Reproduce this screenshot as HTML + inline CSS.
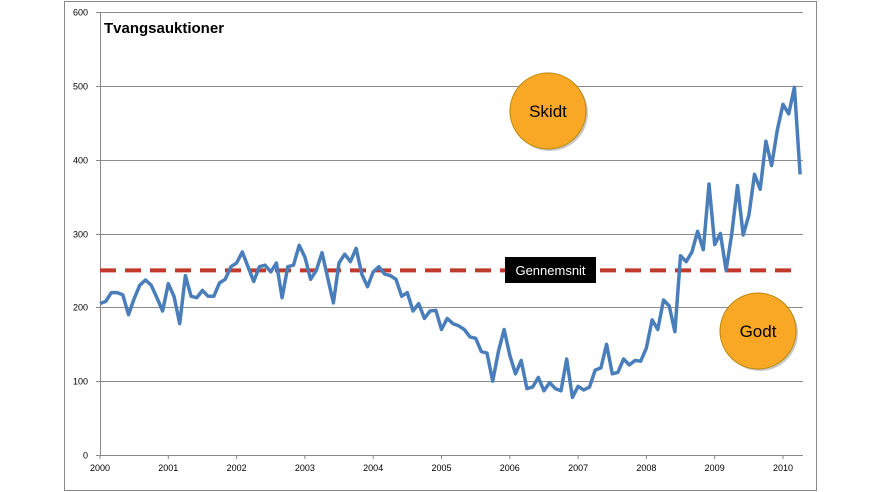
<!DOCTYPE html>
<html><head><meta charset="utf-8"><style>
body{margin:0;background:#fff;font-family:"Liberation Sans",sans-serif}
svg{display:block}
</style></head><body>
<svg width="884" height="492">
<rect x="64.5" y="1.5" width="752" height="489" fill="#fff" stroke="#888"/>
<g id="grid"></g>
<g id="axes"></g>
<text x="104" y="33" font-size="15" font-weight="bold" fill="#000">Tvangsauktioner</text>
<g id="avg"></g>
<path id="line" fill="none" stroke="#4a7ebb" stroke-width="3.5" stroke-linejoin="round"/>
<rect x="505" y="257" width="91" height="26" fill="#000"/>
<text x="550.5" y="275" font-size="13" fill="#fff" text-anchor="middle">Gennemsnit</text>
<circle cx="550" cy="113" r="38" fill="#222" opacity="0.25"/>
<circle cx="548" cy="111" r="38" fill="#f9a825" stroke="#b8860b"/>
<text x="548" y="117" font-size="17" text-anchor="middle" fill="#000">Skidt</text>
<circle cx="760" cy="333" r="38" fill="#222" opacity="0.25"/>
<circle cx="758" cy="331" r="38" fill="#f9a825" stroke="#b8860b"/>
<text x="758" y="337" font-size="17" text-anchor="middle" fill="#000">Godt</text>
</svg>
<script>
const yTicks=[0,100,200,300,400,500,600];
const years=["2000","2001","2002","2003","2004","2005","2006","2007","2008","2009","2010"];
const average=250;
const values=[205,208,220,220,217,190,212,230,237,230,213,195,
232,215,178,243,215,213,223,215,215,233,238,255,
260,275,255,235,255,257,248,260,213,255,257,284,
268,238,250,274,240,206,260,272,262,280,245,228,
248,255,245,243,238,215,220,195,205,185,195,196,
170,185,178,175,170,160,158,140,138,100,140,170,
135,110,128,90,92,105,87,98,90,87,130,78,
93,88,92,115,118,150,110,112,130,122,128,127,
145,183,170,210,202,167,270,262,275,303,278,367,
285,300,250,300,365,298,325,380,360,425,392,440,
475,462,498,380];
const X0=100,YEARW=68.3,Y0=455,YS=443/600;
const xm=i=>X0+i*YEARW/12, y=v=>Y0-v*YS;
const NS="http://www.w3.org/2000/svg";
const grid=document.getElementById('grid'),axes=document.getElementById('axes');
function mk(tag,attrs,parent){const e=document.createElementNS(NS,tag);for(const k in attrs)e.setAttribute(k,attrs[k]);parent.appendChild(e);return e;}
yTicks.forEach(t=>{
 const yy=Math.round(y(t))+0.5;
 if(t>0){const g=mk('line',{x1:X0,x2:803,y1:yy,y2:yy,stroke:'#8c8c8c'},grid);
 
 }
 const tk=mk('line',{x1:X0-4,x2:X0,y1:yy,y2:yy,stroke:'#888'},axes);
 const tx=mk('text',{x:88,y:yy+3,'font-size':9,'text-anchor':'end',fill:'#000'},axes);
 tx.textContent=t;
 
 
});
mk('line',{x1:X0+0.5,x2:X0+0.5,y1:12,y2:Y0,stroke:'#888'},axes);
mk('line',{x1:X0,x2:803,y1:Y0+0.5,y2:Y0+0.5,stroke:'#888'},axes);
years.forEach((yr,i)=>{
 const xx=X0+i*YEARW;
 mk('line',{x1:xx,x2:xx,y1:Y0,y2:Y0+4,stroke:'#888'},axes);
 const tx=mk('text',{x:xx,y:471,'font-size':9,'text-anchor':'middle',fill:'#000'},axes);
 tx.textContent=yr;
 
 
});
const av=mk('line',{x1:X0,x2:792,y1:y(average),y2:y(average),stroke:'#c0392b','stroke-width':4,'stroke-dasharray':'16 9'},document.getElementById('avg'));


document.getElementById('line').setAttribute('d',values.map((v,i)=>(i?'L':'M')+xm(i).toFixed(1)+' '+y(v).toFixed(1)).join(' '));
</script>
</body></html>
